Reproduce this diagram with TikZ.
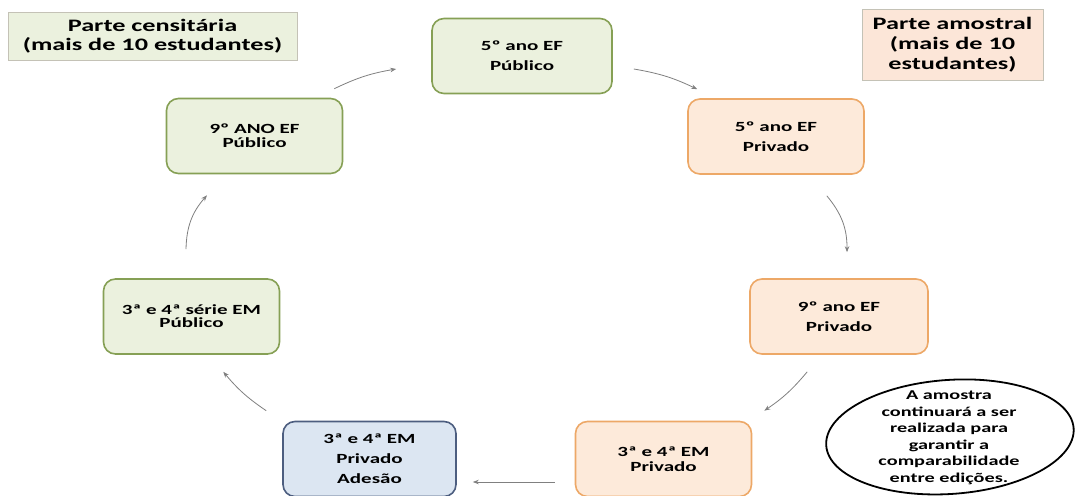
\documentclass[tikz,border=0pt]{standalone}
\usepackage{fontspec}
\setmainfont{Carlito}[FakeStretch=1.5]
\usetikzlibrary{arrows.meta,calc}
\definecolor{pubfill}{HTML}{EBF1DE}
\definecolor{publine}{HTML}{86A055}
\definecolor{privfill}{HTML}{FDEADA}
\definecolor{privline}{HTML}{EDA867}
\definecolor{adfill}{HTML}{DCE6F2}
\definecolor{adline}{HTML}{4D5E80}
\definecolor{legline}{HTML}{C4C2B6}
\definecolor{legafill}{HTML}{FCE6D8}
\definecolor{flowgray}{HTML}{808080}

\begin{document}
\begin{tikzpicture}[x=1pt,y=1pt,
    box/.style={rectangle,rounded corners=12pt,line width=1.6pt,align=center,
      minimum width=176pt,minimum height=75pt,inner sep=2pt,
      font=\fontsize{14}{16}\selectfont\bfseries},
    pubbox/.style={box,draw=publine,fill=pubfill},
    privbox/.style={box,draw=privline,fill=privfill},
    adbox/.style={box,draw=adline,fill=adfill},
    legend/.style={rectangle,draw=legline,line width=0.8pt,align=center,inner sep=2pt,
      font=\fontsize{17.5}{19}\selectfont\bfseries},
    flow/.style={-{Stealth[length=6pt,width=4.5pt]},draw=flowgray,line width=0.8pt}]
  \useasboundingbox[fill=white] (0,0) rectangle (1075,495);
  % legends
  \node[legend,fill=pubfill,minimum width=289pt,minimum height=48pt] (legc) at (152.5,459)
    {Parte censitária\\(mais de 10 estudantes)};
  \node[legend,fill=legafill,minimum width=181pt,minimum height=71pt] (lega) at (952.5,450.5)
    {Parte amostral\\[1pt](mais de 10\\[1pt]estudantes)};
  % public schools (green)
  \node[pubbox,minimum width=180pt] (pub5) at (522,439) {5º ano EF\\[4pt]Público};
  \node[pubbox] (pub9) at (254.5,359) {9º ANO EF\\[-2pt]Público};
  \node[pubbox] (pub3) at (191.5,178.5) {3ª e 4ª série EM\\[-3pt]Público};
  % private schools (orange)
  \node[privbox] (priv5) at (776,358.5) {5º ano EF\\[4pt]Privado};
  \node[privbox,minimum width=178pt] (priv9) at (839,178.5) {9º ano EF\\[4pt]Privado};
  \node[privbox] (privem) at (663.5,36) {3ª e 4ª EM\\[-1pt]Privado};
  % adhesion (blue)
  \node[adbox,minimum width=173pt] (adem) at (369.5,36) {3ª e 4ª EM\\[4pt]Privado\\[4pt]Adesão};
  % note
  \node[align=center,font=\fontsize{13.5}{16.5}\selectfont\bfseries] (note) at (949,57)
    {A amostra\\continuará a ser\\realizada para\\garantir a\\comparabilidade\\entre edições.};
  \draw[line width=1.8pt,rotate around={4:(note.center)}] ($(note.center)+(1,1)$)
    ellipse [x radius=124, y radius=57];
  % cycle
  \draw[flow] ($(pub9.north east)+(-9,9)$) to[bend left=8] ($(pub5.west)+(-35,-13)$);
  \draw[flow] ($(pub5.east)+(21,-13)$) to[bend left=8] ($(priv5.north west)+(10,9)$);
  \draw[flow] ($(priv5.south east)+(-38,-21)$) to[bend left=20] ($(priv9.north)+(8,26)$);
  \draw[flow] ($(priv9.south west)+(58,-17)$) to[bend left=8] ($(privem.north east)+(12,10)$);
  \draw[flow] ($(privem.west)+(-20,-23)$) -- ($(adem.east)+(16,-23)$);
  \draw[flow] ($(adem.north west)+(-16,10)$) to[bend left=8] ($(pub3.south east)+(-57,-17)$);
  \draw[flow] ($(pub3.north)+(-5.5,29)$) to[bend left=20] ($(pub9.south)+(-47.5,-21)$);
\end{tikzpicture}
\end{document}
